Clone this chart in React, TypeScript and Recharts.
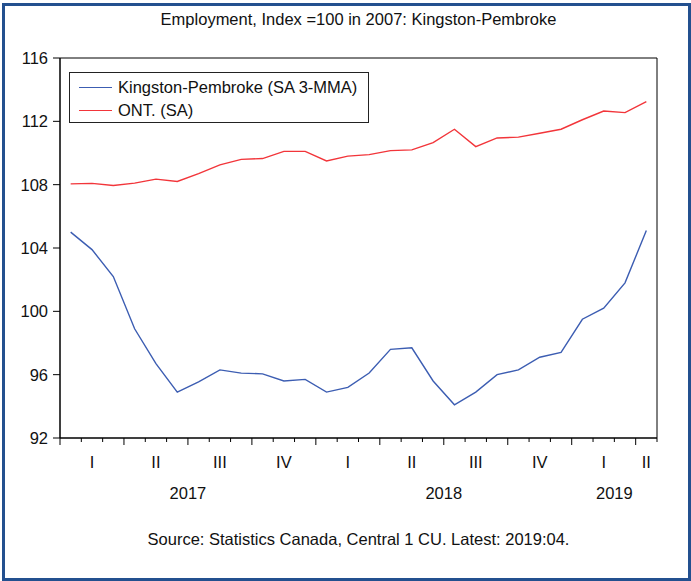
import React from 'react';
import { LineChart, Line, XAxis, YAxis, Legend, ReferenceArea } from 'recharts';

// monthly, Jan 2017 .. Apr 2019
const kingston = [
  105.0, 103.9, 102.2, 98.9, 96.7, 94.9, 95.55, 96.3, 96.1, 96.05, 95.6, 95.7,
  94.9, 95.2, 96.1, 97.6, 97.7, 95.6, 94.1, 94.9, 96.0, 96.3, 97.1, 97.4,
  99.5, 100.2, 101.8, 105.1,
];
const ontario = [
  108.05, 108.08, 107.95, 108.1, 108.35, 108.2, 108.7, 109.25, 109.6, 109.65, 110.1, 110.1,
  109.5, 109.8, 109.9, 110.15, 110.2, 110.65, 111.5, 110.4, 110.95, 111.0, 111.25, 111.5,
  112.1, 112.65, 112.55, 113.25,
];
const quarterLabels = ['I', 'II', 'III', 'IV', 'I', 'II', 'III', 'IV', 'I', 'II'];
const quarterPos = [1.5, 4.5, 7.5, 10.5, 13.5, 16.5, 19.5, 22.5, 25.5, 27.5];
const yearLabels = ['2017', '2018', '2019'];
const yearPos = [6, 18, 26];
const yTicks = [92, 96, 100, 104, 108, 112, 116];
const monthTicks = Array.from({ length: 29 }, (_, i) => i);

const data = kingston.map((k, i) => ({ t: i + 0.5, kp: k, ont: ontario[i] }));

const BLUE = '#3c5db2';
const RED = '#f2353a';
const FONT = '"Liberation Sans", Arial, sans-serif';
const FS = 16.5;

const MonthTick = (props: any) => {
  const { x, y, payload } = props;
  const major = payload.value % 3 === 0;
  return <line x1={x} x2={x} y1={y} y2={y + (major ? 7 : 4)} stroke="#000" strokeWidth={1} />;
};

const renderLegend = () => (
  <div style={{
    width: 300, height: 51, boxSizing: 'border-box', border: '1px solid #222',
    background: '#fff', padding: '3px 0 0 9px', fontFamily: FONT, fontSize: FS, color: '#111',
  }}>
    {[['Kingston-Pembroke (SA 3-MMA)', BLUE], ['ONT. (SA)', RED]].map(([name, c]) => (
      <div key={name} style={{ display: 'flex', alignItems: 'center', height: 23 }}>
        <span style={{ width: 33, height: 0, borderTop: `1.3px solid ${c}`, marginRight: 6 }} />
        <span>{name}</span>
      </div>
    ))}
  </div>
);

export default function App() {
  return (
    <div style={{ position: 'absolute', left: 0, top: 0, width: 691, height: 581, background: '#fff', fontFamily: FONT }}>
      <div style={{ position: 'absolute', left: 2, top: 3, width: 689, height: 578, boxSizing: 'border-box', border: '3px solid #23508f' }} />
      <div style={{ position: 'absolute', left: 60, top: 9, width: 597, textAlign: 'center', fontSize: FS, lineHeight: '20px', color: '#111' }}>
        Employment, Index =100 in 2007: Kingston-Pembroke
      </div>
      <div style={{ position: 'absolute', left: 0, top: 0 }}>
        <LineChart width={691} height={581} data={data} margin={{ top: 58, right: 34, left: 0, bottom: 73 }}>
          <XAxis xAxisId="m" dataKey="t" type="number" domain={[0, 28]} ticks={monthTicks}
            height={10} tickSize={0} tickMargin={0} tickLine={false} axisLine={{ stroke: '#000' }}
            tick={<MonthTick />} interval={0} allowDataOverflow />
          <XAxis xAxisId="q" dataKey="t" type="number" domain={[0, 28]} ticks={quarterPos}
            height={30} tickSize={0} tickMargin={8} tickLine={false} axisLine={false} interval={0}
            tickFormatter={(v: number) => quarterLabels[quarterPos.indexOf(v)]}
            tick={{ fontSize: FS, fill: '#111', fontFamily: FONT }} />
          <XAxis xAxisId="y" dataKey="t" type="number" domain={[0, 28]} ticks={yearPos}
            height={30} tickSize={0} tickMargin={9} tickLine={false} axisLine={false} interval={0}
            tickFormatter={(v: number) => yearLabels[yearPos.indexOf(v)]}
            tick={{ fontSize: FS, fill: '#111', fontFamily: FONT }} />
          <YAxis domain={[92, 116]} ticks={yTicks} width={60} tickSize={7} tickMargin={5}
            axisLine={{ stroke: '#000' }} tickLine={{ stroke: '#000' }} interval={0}
            tick={{ fontSize: FS, fill: '#111', fontFamily: FONT }} />
          <ReferenceArea xAxisId="m" x1={0} x2={28} y1={92} y2={116} fill="none" stroke="#000" strokeOpacity={1} ifOverflow="visible" />
          <Legend layout="vertical" align="center" verticalAlign="middle" content={renderLegend}
            wrapperStyle={{ left: 69, top: 72, width: 300, height: 51 }} />
          <Line xAxisId="m" dataKey="kp" name="Kingston-Pembroke (SA 3-MMA)" stroke={BLUE} strokeWidth={1.4}
            dot={false} isAnimationActive={false} />
          <Line xAxisId="m" dataKey="ont" name="ONT. (SA)" stroke={RED} strokeWidth={1.4}
            dot={false} isAnimationActive={false} />
        </LineChart>
      </div>
      <div style={{ position: 'absolute', left: 60, top: 529, width: 597, textAlign: 'center', fontSize: FS, lineHeight: '20px', color: '#111' }}>
        Source: Statistics Canada, Central 1 CU. Latest: 2019:04.
      </div>
    </div>
  );
}
